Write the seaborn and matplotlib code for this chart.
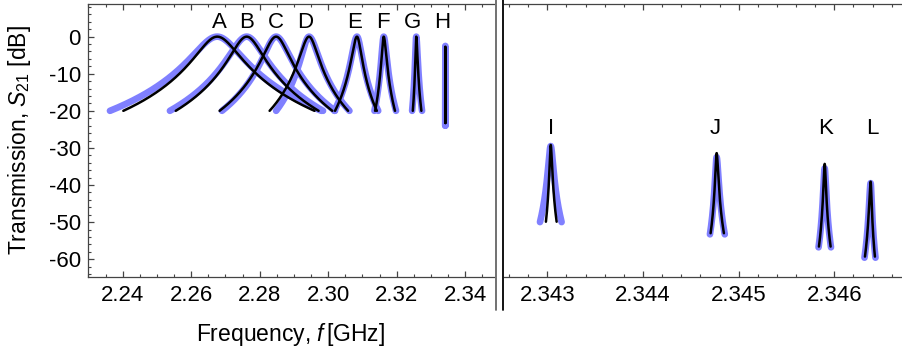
import numpy as np
import pandas as pd
import matplotlib
matplotlib.use("Agg")
import matplotlib.pyplot as plt
from matplotlib.lines import Line2D
from matplotlib.ticker import MultipleLocator, FormatStrFormatter
import seaborn as sns

# Resonances (GHz, dB)
names_left = ["A", "B", "C", "D", "E", "F", "G", "H"]
f0_left = [2.2676, 2.2762, 2.2848, 2.2944, 2.3084, 2.3162, 2.3257, 2.3342]
peak_left = [0, 0, 0, 0, 0, 0, 0, -2.7]
floor_left = [-20, -20, -20, -20, -20, -20, -20, -23.3]
fit_lo_left = [2.2402, 2.2555, 2.2683, 2.2829, 2.3020, 2.3137, 2.3247, 2.33417]
fit_hi_left = [2.2960, 2.2972, 2.3012, 2.3058, 2.3142, 2.3195, 2.3272, 2.33423]
dat_lo_left = [2.2363, 2.2538, 2.2690, 2.2848, 2.3018, 2.3135, 2.3245, 2.33415]
dat_hi_left = [2.2980, 2.2985, 2.3020, 2.3062, 2.3146, 2.3198, 2.3274, 2.33425]
dat_peak_left = [0, 0, 0, 0, 0, 0, 0, -2.5]
dat_floor_left = [-20, -20, -20, -20, -20, -20, -20, -24.0]
label_f_left = [2.2681, 2.2762, 2.2848, 2.2932, 2.3077, 2.3159, 2.3245, 2.3332]

names_right = ["I", "J", "K", "L"]
f0_right = [2.343036, 2.344770, 2.345899, 2.346379]
peak_right = [-29.2, -31.4, -34.3, -39.1]
floor_right = [-49.9, -53.0, -56.6, -59.3]
fit_lo_right = [2.342986, 2.344707, 2.345839, 2.346320]
fit_hi_right = [2.343098, 2.344846, 2.345961, 2.346424]
dat_lo_right = [2.342924, 2.344700, 2.345835, 2.346315]
dat_hi_right = [2.343150, 2.344855, 2.345965, 2.346430]
dat_peak_right = [-29.5, -32.5, -35.5, -39.5]
dat_floor_right = [-50.0, -53.3, -56.8, -59.6]
label_f_right = [2.343040, 2.344755, 2.345912, 2.346400]

P = 1.4  # line-shape exponent


def resonance(f0, peak, floor, lo, hi, n=500):
    # Lorentzian-like dB profile hitting `floor` at lo and hi
    k = np.sqrt(10 ** ((peak - floor) / (10 * P)) - 1)
    f = np.linspace(lo, hi, n)
    g = np.where(f < f0, (f0 - lo) / k, (hi - f0) / k)
    return f, peak - 10 * P * np.log10(1 + ((f - f0) / g) ** 2)


sns.set_theme(style="white")
plt.rcParams["font.family"] = ["Liberation Sans", "DejaVu Sans"]
plt.rcParams["mathtext.fontset"] = "custom"
plt.rcParams["mathtext.rm"] = "Liberation Sans"
plt.rcParams["mathtext.it"] = "Liberation Sans:italic"
plt.rcParams["axes.unicode_minus"] = False
for k in ("text.color", "axes.labelcolor", "xtick.labelcolor", "ytick.labelcolor"):
    plt.rcParams[k] = "black"

blue = "#8080FF"
spine_c = "#444444"
fs_tick = 16
fs_lab = 16.5
fs_let = 16

fig = plt.figure(figsize=(9.02, 3.56), dpi=100)
axL = fig.add_axes([87.7 / 902, 79 / 356, (494 - 87.7) / 902, 273 / 356])
axR = fig.add_axes([504 / 902, 79 / 356, (902 - 504) / 902, 273 / 356])


def draw(ax, f0s, peaks, floors, flo, fhi, dlo, dhi, dpk, dfl):
    for i in range(len(f0s)):
        fd, yd = resonance(f0s[i], dpk[i], dfl[i], dlo[i], dhi[i])
        d = pd.DataFrame({"f": fd, "s21": yd})
        sns.lineplot(data=d, x="f", y="s21", ax=ax, color=blue, lw=4.8,
                     sort=False, estimator=None, solid_capstyle="round")
    for i in range(len(f0s)):
        ff, yf = resonance(f0s[i], peaks[i], floors[i], flo[i], fhi[i])
        d = pd.DataFrame({"f": ff, "s21": yf})
        sns.lineplot(data=d, x="f", y="s21", ax=ax, color="black", lw=1.8,
                     sort=False, estimator=None, solid_capstyle="round")


draw(axL, f0_left, peak_left, floor_left, fit_lo_left, fit_hi_left,
     dat_lo_left, dat_hi_left, dat_peak_left, dat_floor_left)
draw(axR, f0_right, peak_right, floor_right, fit_lo_right, fit_hi_right,
     dat_lo_right, dat_hi_right, dat_peak_right, dat_floor_right)

for n, f in zip(names_left, label_f_left):
    axL.text(f, 3.8, n, ha="center", va="center", fontsize=fs_let)
for n, f in zip(names_right, label_f_right):
    axR.text(f, -24.7, n, ha="center", va="center", fontsize=fs_let)

for ax in (axL, axR):
    ax.set_ylim(-64.8, 8.8)
    ax.set_xlabel("")
    ax.set_ylabel("")
    for s in ax.spines.values():
        s.set_color(spine_c)
        s.set_linewidth(0.9)
    ax.spines["right"].set_visible(False)
    ax.tick_params(axis="x", which="both", direction="in", top=True,
                   bottom=True, color=spine_c, labelsize=fs_tick, pad=6)
    ax.tick_params(which="major", length=4, width=0.9)
    ax.tick_params(which="minor", length=2.3, width=0.8)

axR.spines["left"].set_visible(False)
axR.tick_params(axis="y", which="both", left=False, labelleft=False)

axL.set_xlim(2.2298, 2.3484)
axL.xaxis.set_major_locator(MultipleLocator(0.02))
axL.xaxis.set_minor_locator(MultipleLocator(0.005))
axL.xaxis.set_major_formatter(FormatStrFormatter("%.2f"))
axL.yaxis.set_major_locator(MultipleLocator(10))
axL.yaxis.set_minor_locator(MultipleLocator(2))
axL.tick_params(axis="y", which="both", direction="in", left=True,
                color=spine_c, labelsize=fs_tick, pad=5)

axR.set_xlim(2.342548, 2.346707)
axR.xaxis.set_major_locator(MultipleLocator(0.001))
axR.xaxis.set_minor_locator(MultipleLocator(0.0002))
axR.xaxis.set_major_formatter(FormatStrFormatter("%.3f"))

axL.set_xlabel("Frequency, $\\it{f}\\,$[GHz]", fontsize=fs_lab)
axL.xaxis.set_label_coords(0.5, -0.16)
axL.set_ylabel("Transmission, $S_{21}$ [dB]", fontsize=fs_lab)
axL.yaxis.set_label_coords(-0.1346, 0.5)

# axis break marks
fig.add_artist(Line2D([495.7 / 902] * 2, [1.0, 46 / 356], color="#666666", lw=1.3))
fig.add_artist(Line2D([502.7 / 902] * 2, [1.0, 46 / 356], color="black", lw=1.3))

fig.savefig("out.png", dpi=100)
